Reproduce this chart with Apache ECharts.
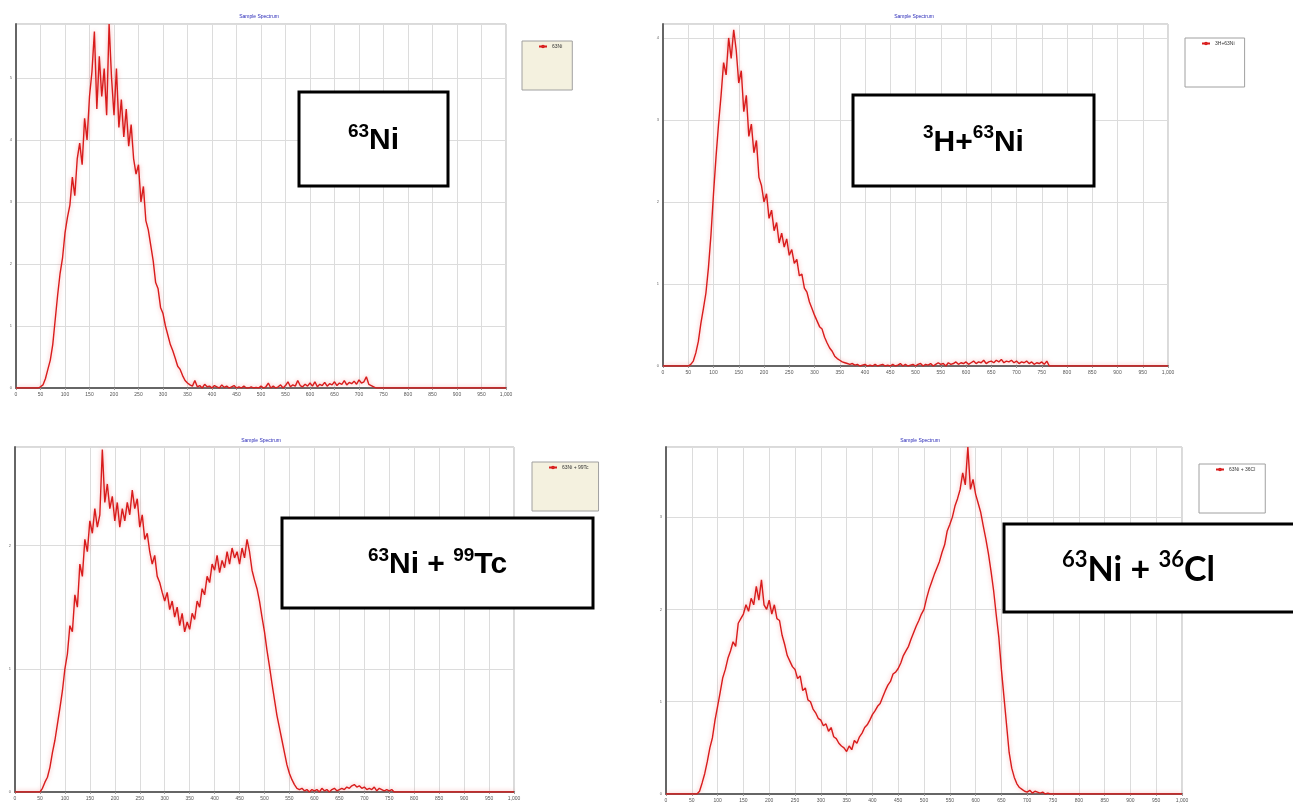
<!DOCTYPE html>
<html><head><meta charset="utf-8">
<script src="https://cdn.jsdelivr.net/npm/echarts@6/dist/echarts.min.js"></script>
<style>html,body{margin:0;padding:0;background:#fff}#c{width:1293px;height:803px}</style>
</head><body><div id="c"></div>
<script>
// ---- data ----
const CH_STEP = 5;            // channel spacing of the spectrum arrays
const X_MIN = 0, X_MAX = 1000, X_INTERVAL = 50;
const panelNames = ['63Ni', '3H+63Ni', '63Ni + 99Tc', '63Ni + 36Cl'];
const chartTitles = ['Sample Spectrum', 'Sample Spectrum', 'Sample Spectrum', 'Sample Spectrum'];
const yMaxes = [5.87, 4.17, 2.8, 3.76];

const specNi63 = [
  0,0,0,0,0,0,0,0,0,0,
  0.02,0.05,0.15,0.3,0.45,0.7,1.1,1.5,1.85,2.1,
  2.5,2.75,2.95,3.4,3.1,3.7,3.95,3.6,4.35,4.0,
  4.7,5.1,5.75,4.5,5.35,4.7,5.15,4.4,5.87,5.0,
  4.4,5.15,4.2,4.65,4.05,4.5,3.9,4.25,3.7,3.45,
  3.6,3.0,3.25,2.7,2.55,2.3,2.05,1.7,1.6,1.3,
  1.2,1.0,0.85,0.7,0.6,0.48,0.35,0.3,0.2,0.12,
  0.08,0.05,0.03,0.12,0.02,0.04,0,0.06,0.02,0.03,
  0,0.04,0.02,0,0.05,0.01,0.03,0,0.02,0.04,
  0,0.02,0,0.03,0,0,0.02,0,0.01,0,
  0.03,0,0.02,0.08,0,0.03,0,0.02,0.05,0,
  0.04,0.1,0.02,0.05,0.03,0.12,0.04,0.02,0.06,0.03,
  0.08,0.03,0.1,0.02,0.06,0.04,0.09,0.03,0.07,0.05,
  0.1,0.04,0.08,0.06,0.12,0.05,0.09,0.07,0.11,0.06,
  0.13,0.08,0.1,0.18,0.06,0.04,0.02,0,0,0,
  0,0,0,0,0,0,0,0,0,0,
  0,0,0,0,0,0,0,0,0,0,
  0,0,0,0,0,0,0,0,0,0,
  0,0,0,0,0,0,0,0,0,0,
  0,0,0,0,0,0,0,0,0,0,
  0
];
const specH3Ni63 = [
  0,0,0,0,0,0,0,0,0,0,
  0,0.02,0.06,0.16,0.3,0.52,0.7,0.89,1.2,1.6,
  2.1,2.55,2.95,3.3,3.7,3.55,4.0,3.75,4.1,3.85,
  3.45,3.6,3.1,3.3,2.8,2.95,2.6,2.75,2.3,2.2,
  2.0,2.1,1.8,1.9,1.65,1.75,1.5,1.62,1.45,1.55,
  1.35,1.42,1.25,1.3,1.1,1.12,0.95,0.9,0.78,0.7,
  0.62,0.55,0.48,0.45,0.35,0.28,0.22,0.18,0.12,0.09,
  0.07,0.05,0.04,0.03,0.02,0.03,0.01,0.02,0,0.01,
  0.02,0,0.01,0,0.02,0,0.01,0.02,0,0.01,
  0,0.02,0,0.01,0.03,0,0.02,0,0.01,0.02,
  0,0.02,0.03,0,0.02,0.01,0.03,0,0.02,0.04,
  0.02,0.03,0,0.04,0.02,0.03,0.05,0.02,0.04,0.03,
  0.05,0.02,0.04,0.06,0.03,0.05,0.04,0.07,0.03,0.05,
  0.06,0.04,0.07,0.05,0.08,0.04,0.06,0.05,0.07,0.04,
  0.06,0.03,0.05,0.04,0.06,0.03,0.05,0.02,0.04,0.03,
  0.05,0.02,0.06,0,0,0,0,0,0,0,
  0,0,0,0,0,0,0,0,0,0,
  0,0,0,0,0,0,0,0,0,0,
  0,0,0,0,0,0,0,0,0,0,
  0,0,0,0,0,0,0,0,0,0,
  0
];
const specNi63Tc99 = [
  0,0,0,0,0,0,0,0,0,0,
  0,0.03,0.08,0.12,0.2,0.32,0.42,0.55,0.68,0.82,
  1.0,1.12,1.35,1.3,1.6,1.5,1.85,1.75,2.05,1.95,
  2.2,2.1,2.3,2.15,2.25,2.78,2.35,2.5,2.3,2.4,
  2.2,2.35,2.15,2.3,2.2,2.35,2.25,2.45,2.3,2.38,
  2.15,2.25,2.05,2.1,1.95,1.85,1.92,1.75,1.7,1.62,
  1.55,1.62,1.48,1.55,1.42,1.5,1.35,1.45,1.3,1.38,
  1.32,1.45,1.4,1.55,1.5,1.65,1.6,1.75,1.7,1.85,
  1.8,1.92,1.78,1.88,1.82,1.95,1.85,1.98,1.9,1.95,
  1.85,1.98,1.9,2.05,1.95,1.8,1.72,1.65,1.55,1.42,
  1.3,1.15,1.02,0.88,0.75,0.62,0.52,0.42,0.32,0.22,
  0.15,0.1,0.06,0.03,0.02,0.03,0.01,0.02,0,0.02,
  0.01,0.02,0,0.03,0.01,0.02,0,0.02,0.03,0.01,
  0.02,0.03,0.02,0.04,0.03,0.05,0.06,0.04,0.05,0.03,
  0.04,0.02,0.03,0.02,0.04,0.01,0.03,0.02,0.01,0.02,
  0.01,0.02,0,0,0,0,0,0,0,0,
  0,0,0,0,0,0,0,0,0,0,
  0,0,0,0,0,0,0,0,0,0,
  0,0,0,0,0,0,0,0,0,0,
  0,0,0,0,0,0,0,0,0,0,
  0
];
const specNi63Cl36 = [
  0,0,0,0,0,0,0,0,0,0,
  0,0,0,0.03,0.12,0.22,0.35,0.5,0.61,0.8,
  0.95,1.1,1.26,1.35,1.47,1.55,1.65,1.6,1.85,1.9,
  1.95,2.05,1.98,2.12,2.05,2.25,2.1,2.32,2.05,2.0,
  2.1,1.95,2.05,1.9,1.88,1.72,1.62,1.5,1.44,1.38,
  1.35,1.25,1.28,1.12,1.15,1.02,1.0,0.92,0.88,0.82,
  0.8,0.74,0.76,0.68,0.72,0.62,0.6,0.55,0.52,0.5,
  0.46,0.52,0.48,0.58,0.55,0.62,0.66,0.72,0.75,0.8,
  0.86,0.9,0.95,0.98,1.05,1.12,1.18,1.22,1.3,1.32,
  1.36,1.42,1.5,1.55,1.6,1.68,1.75,1.82,1.88,1.95,
  2.0,2.12,2.22,2.3,2.38,2.45,2.52,2.62,2.7,2.85,
  2.92,3.0,3.12,3.2,3.3,3.48,3.35,3.76,3.3,3.41,
  3.25,3.15,3.05,2.9,2.76,2.6,2.41,2.2,1.94,1.7,
  1.35,1.05,0.75,0.45,0.28,0.18,0.11,0.07,0.05,0.03,
  0.02,0.04,0.01,0.03,0.02,0.01,0.02,0,0.01,0,
  0,0,0,0,0,0,0,0,0,0,
  0,0,0,0,0,0,0,0,0,0,
  0,0,0,0,0,0,0,0,0,0,
  0,0,0,0,0,0,0,0,0,0,
  0,0,0,0,0,0,0,0,0,0,
  0
];
const spectra = [specNi63, specH3Ni63, specNi63Tc99, specNi63Cl36];
const labelRich = [
  '{s|63}{b|Ni}',
  '{s|3}{b|H+}{s|63}{b|Ni}',
  '{s|63}{b|Ni + }{s|99}{b|Tc}',
  '{s|63}{b|Ni + }{s|36}{b|Cl}'
];

// ---- layout (pixels) ----
const layout = [
  {grid:{left:16, top:24, width:490, height:364}, title:[259,17], legend:[522,41], box:[299,92,149,94], font:'Liberation Sans', fs:30, sfs:19, beige:true},
  {grid:{left:663, top:24, width:505, height:342}, title:[914,17], legend:[1185,38], box:[853,95,241,91], font:'Liberation Sans', fs:30, sfs:19, beige:false},
  {grid:{left:15, top:447, width:499, height:345}, title:[261,441], legend:[532,462], box:[282,518,311,90], font:'Liberation Sans', fs:30, sfs:19, beige:true},
  {grid:{left:666, top:447, width:516, height:350}, title:[920,441], legend:[1199,464], box:[1004,524,300,88], font:'Lato', fs:34, sfs:22, beige:false}
];

const chart = echarts.init(document.getElementById('c'), null, {renderer:'canvas'});
const grids = [], xAxes = [], yAxes = [], series = [], legends = [], graphics = [];
layout.forEach((L, i) => {
  grids.push(Object.assign({show:true, borderColor:'#b5b5b5', borderWidth:1, backgroundColor:'#fff'}, L.grid));
  xAxes.push({
    type:'value', gridIndex:i, min:X_MIN, max:X_MAX, interval:X_INTERVAL,
    axisLine:{show:true, onZero:false, lineStyle:{color:'#666', width:2}},
    axisTick:{show:true, length:2, lineStyle:{color:'#999'}},
    axisLabel:{fontSize:5, color:'#555', margin:4, formatter:v => v === 1000 ? '1,000' : String(v)},
    splitLine:{show:true, lineStyle:{color:'#dcdcdc', width:1}}
  });
  yAxes.push({
    type:'value', gridIndex:i, min:0, max:yMaxes[i], interval:1,
    axisLine:{show:true, onZero:false, lineStyle:{color:'#666', width:2}},
    axisTick:{show:false},
    axisLabel:{fontSize:4, color:'#666', margin:4, showMaxLabel:false},
    splitLine:{show:true, lineStyle:{color:'#dcdcdc', width:1}}
  });
  series.push({
    name:panelNames[i], type:'line', xAxisIndex:i, yAxisIndex:i, showSymbol:false, silent:true,
    data:spectra[i].map((v, k) => [k * CH_STEP, v]),
    lineStyle:{color:'#d81c1c', width:1.4, shadowColor:'rgba(240,110,110,0.6)', shadowBlur:4},
    itemStyle:{color:'#d81c1c'}
  });
  legends.push({
    data:[panelNames[i]], left:L.legend[0], top:L.legend[1], orient:'vertical',
    backgroundColor: L.beige ? '#f4f1df' : '#ffffff', borderColor:'#a0a0a0', borderWidth:1,
    padding:[3, 10, 41, 16], itemWidth:8, itemHeight:2, itemGap:2,
    textStyle:{fontSize:5, color:'#333', width:34, overflow:'truncate'}
  });
  graphics.push({type:'text', x:L.title[0], y:L.title[1], style:{text:chartTitles[i], fontSize:5, fill:'#2a2ab8', align:'center', verticalAlign:'middle'}, silent:true});
  const b = L.box;
  graphics.push({type:'rect', x:b[0], y:b[1], shape:{x:0, y:0, width:b[2], height:b[3]}, style:{fill:'#fff', stroke:'#000', lineWidth:3}, z:100});
  graphics.push({type:'text', x:b[0] + Math.min(b[2], 1293 - b[0]) / 2 + (i === 3 ? -10 : 0), y:b[1] + b[3] / 2, z:101,
    style:{text:labelRich[i], align:'center', verticalAlign:'middle', fill:'#000',
      rich:{
        b:{fontFamily:L.font, fontWeight:'bold', fontSize:L.fs, lineHeight:L.fs + 4, verticalAlign:'bottom', fill:'#000'},
        s:{fontFamily:L.font, fontWeight:'bold', fontSize:L.sfs, lineHeight:L.sfs + 2, verticalAlign:'top', fill:'#000'}
      }}});
});

chart.setOption({
  animation:false,
  backgroundColor:'#fff',
  grid:grids, xAxis:xAxes, yAxis:yAxes, series:series, legend:legends,
  graphic:{elements:graphics}
});
</script></body></html>
